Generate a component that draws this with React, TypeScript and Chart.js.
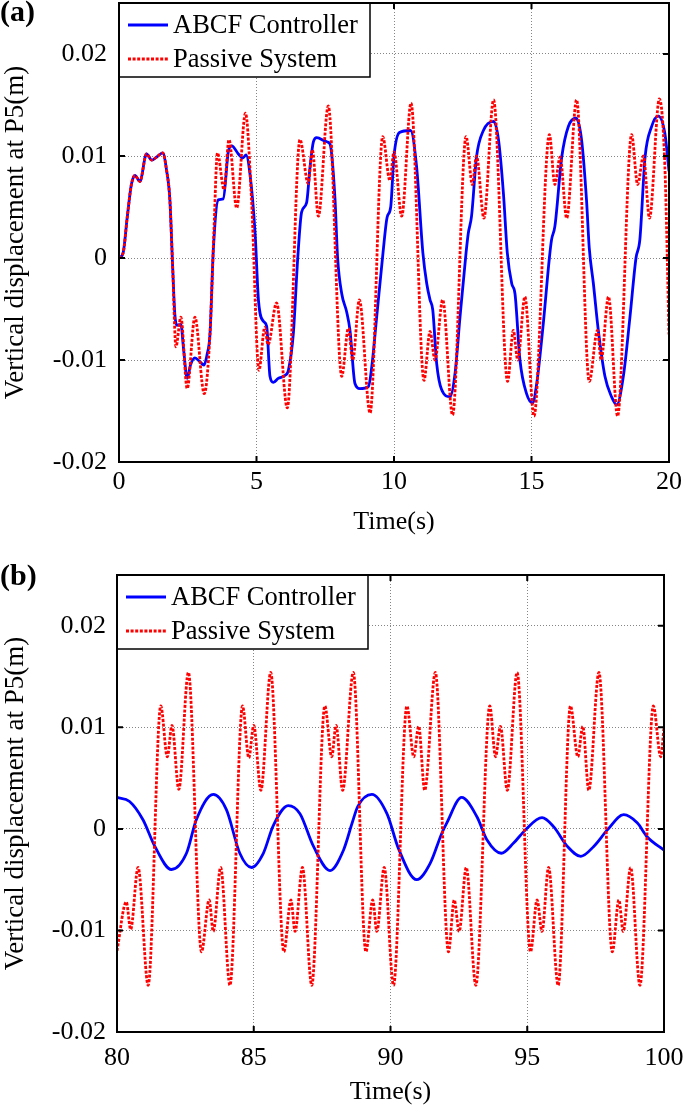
import React, { useEffect, useRef } from 'react';
import { Chart, registerables } from 'chart.js';

Chart.register(...registerables);

const FONT = "'Liberation Serif', 'Times New Roman', serif";

// ---------- shared axis data ----------
const Y_MIN = -0.02;
const Y_MAX = 0.025;
const Y_TICKS = [-0.02, -0.01, 0, 0.01, 0.02];
const Y_TICK_LABELS = ['-0.02', '-0.01', '0', '0.01', '0.02'];
const SERIES_LABELS = ['ABCF Controller', 'Passive System'];
const X_TITLE = 'Time(s)';
const Y_TITLE = 'Vertical displacement at P5(m)';

// ---------- panel (a): 0-20 s ----------
const A_X_TICKS = [0, 5, 10, 15, 20];
const A_ABCF_T = [
  0, 0.15, 0.3, 0.45, 0.58, 0.76, 1.0, 1.19, 1.37, 1.59, 1.73, 1.85, 1.95, 2.03, 2.1, 2.25, 2.35, 2.48, 2.6, 2.76,
  2.95, 3.09, 3.2, 3.31, 3.43, 3.61, 3.79, 3.98, 4.1, 4.34, 4.5, 4.62, 4.76, 4.95, 5.07, 5.25, 5.37, 5.49, 5.61, 5.79,
  6.04, 6.16, 6.34, 6.5, 6.64, 6.82, 6.95, 7.07, 7.19, 7.55, 7.67, 7.85, 7.95, 8.1, 8.28, 8.4, 8.58, 8.76, 9.07, 9.19,
  9.37, 9.6, 9.75, 9.88, 10.0, 10.2, 10.6, 10.82, 11.05, 11.19, 11.31, 11.41, 11.55, 11.73, 12.04, 12.22, 12.4, 12.62,
  12.7, 12.82, 13.0, 13.25, 13.62, 13.8, 13.98, 14.12, 14.28, 14.4, 14.58, 14.82, 15.04, 15.19, 15.43, 15.65, 15.73,
  15.85, 16.1, 16.34, 16.62, 16.82, 17.0, 17.1, 17.25, 17.43, 17.67, 17.91, 18.1, 18.34, 18.58, 18.8, 18.94, 19.13,
  19.37, 19.61, 19.85, 20.0,
];
const A_ABCF_Y = [
  0, 0.0005, 0.004, 0.0072, 0.0081, 0.0075, 0.0102, 0.0096, 0.0099, 0.0103, 0.0086, 0.0057, -0.0008, -0.0055, -0.0066,
  -0.0065, -0.009, -0.0118, -0.0105, -0.0098, -0.0102, -0.0105, -0.0095, -0.0074, 0.0008, 0.0057, 0.0058, 0.0105,
  0.011, 0.0102, 0.0098, 0.0101, 0.0083, 0.0024, -0.0041, -0.0062, -0.0067, -0.0116, -0.0122, -0.0118, -0.0115,
  -0.011, -0.0074, 0.0, 0.0045, 0.0054, 0.009, 0.0114, 0.0118, 0.0114, 0.0112, 0.006, 0.0, -0.0035, -0.0053, -0.0071,
  -0.0123, -0.0128, -0.0126, -0.0107, -0.0058, 0.0005, 0.004, 0.005, 0.01, 0.0123, 0.0125, 0.009, 0.0005, -0.0025,
  -0.0041, -0.0051, -0.0103, -0.0129, -0.0136, -0.0113, -0.0058, 0.0005, 0.0024, 0.0041, 0.0099, 0.0125, 0.0134,
  0.0116, 0.0063, 0.0005, -0.0025, -0.0035, -0.01, -0.0133, -0.0142, -0.0123, -0.0064, 0.0, 0.0018, 0.0031, 0.0099,
  0.0129, 0.0137, 0.0116, 0.0057, 0.001, -0.0025, -0.0071, -0.0116, -0.0136, -0.0144, -0.0116, -0.0058, 0.0, 0.0018,
  0.0099, 0.0129, 0.0139, 0.0122, 0.0085,
];
const A_PASSIVE_T = [
  0, 0.15, 0.3, 0.45, 0.58, 0.76, 1.0, 1.19, 1.37, 1.59, 1.73, 1.85, 1.95, 2.07, 2.25, 2.48, 2.76, 3.1, 3.31, 3.45,
  3.58, 3.82, 4.0, 4.28, 4.6, 4.82, 5.09, 5.3, 5.42, 5.73, 6.12, 6.58, 6.88, 7.03, 7.25, 7.61, 8.1, 8.34, 8.5, 8.74,
  9.13, 9.59, 9.85, 10.0, 10.28, 10.62, 11.09, 11.31, 11.49, 11.77, 12.13, 12.62, 12.85, 13.0, 13.27, 13.62, 14.13,
  14.34, 14.5, 14.76, 15.09, 15.65, 15.85, 16.04, 16.28, 16.64, 17.1, 17.4, 17.53, 17.8, 18.13, 18.64, 18.86, 19.07,
  19.29, 19.65, 19.85, 20.0,
];
const A_PASSIVE_Y = [
  0, 0.0005, 0.004, 0.0072, 0.0081, 0.0075, 0.0102, 0.0096, 0.0099, 0.0103, 0.0086, 0.0057, -0.0008, -0.0087, -0.0058,
  -0.0128, -0.0058, -0.0133, -0.0074, 0.0025, 0.0103, 0.0067, 0.0116, 0.0049, 0.0142, 0.0057, -0.011, -0.0068,
  -0.0085, -0.0044, -0.0147, 0.0116, 0.0073, 0.0106, 0.0041, 0.0149, -0.0116, -0.0069, -0.01, -0.0041, -0.0152,
  0.0119, 0.0076, 0.0104, 0.0041, 0.0152, -0.012, -0.0072, -0.01, -0.0041, -0.0154, 0.0119, 0.0072, 0.01, 0.0039,
  0.0155, -0.0121, -0.0071, -0.01, -0.0038, -0.0155, 0.0121, 0.0072, 0.0099, 0.0039, 0.0155, -0.0121, -0.0071, -0.01,
  -0.0038, -0.0155, 0.0121, 0.0072, 0.01, 0.0039, 0.0156, 0.009, -0.0075,
];

// ---------- panel (b): 80-100 s ----------
const B_X_TICKS = [80, 85, 90, 95, 100];
const B_ABCF_T = [
  80.0, 80.46, 80.95, 81.38, 81.99, 82.54, 82.9, 83.52, 84.0, 84.49, 84.92, 85.35, 85.71, 86.26, 86.69, 87.18, 87.79,
  88.28, 88.6, 88.8, 89.32, 89.87, 90.3, 90.96, 91.45, 91.88, 92.06, 92.6, 93.16, 93.53, 94.05, 94.5, 94.93, 95.54,
  95.97, 96.46, 96.96, 97.44, 97.93, 98.53, 99.02, 99.39, 100.0,
];
const B_ABCF_Y = [
  0.0031, 0.0027, 0.0009, -0.0017, -0.004, -0.0024, 0.0009, 0.0034, 0.0019, -0.0024, -0.0038, -0.0024, 0.0003,
  0.0023, 0.0015, -0.0017, -0.0041, -0.0021, 0.0006, 0.0022, 0.0034, 0.0015, -0.002, -0.005, -0.0034, -0.0004,
  0.0006, 0.0031, 0.0012, -0.0011, -0.0024, -0.0014, -0.0001, 0.0011, 0.0002, -0.0017, -0.0027, -0.0017, -0.0001,
  0.0014, 0.0006, -0.0008, -0.0021,
];
const B_PASSIVE_T = [
  80.0, 80.34, 80.5, 80.77, 81.14, 81.6, 81.84, 82.01, 82.26, 82.61, 83.09, 83.37, 83.52, 83.79, 84.13, 84.59, 84.82,
  85.0, 85.26, 85.62, 86.1, 86.36, 86.51, 86.78, 87.12, 87.6, 87.85, 88.01, 88.25, 88.64, 89.1, 89.35, 89.5, 89.77,
  90.11, 90.6, 90.85, 91.03, 91.25, 91.64, 92.12, 92.33, 92.51, 92.77, 93.12, 93.63, 93.84, 94.02, 94.27, 94.63,
  95.12, 95.36, 95.54, 95.78, 96.13, 96.58, 96.85, 97.03, 97.25, 97.62, 98.11, 98.35, 98.51, 98.78, 99.12, 99.61,
  99.88, 100.0,
];
const B_PASSIVE_Y = [
  -0.012, -0.0072, -0.0099, -0.0038, -0.0154, 0.0121, 0.0071, 0.0102, 0.0039, 0.0154, -0.0121, -0.007, -0.0101,
  -0.0038, -0.0154, 0.0121, 0.007, 0.0102, 0.0038, 0.0154, -0.0121, -0.007, -0.0101, -0.0038, -0.0154, 0.0121,
  0.0071, 0.0102, 0.0038, 0.0154, -0.0121, -0.007, -0.0101, -0.0038, -0.0154, 0.0121, 0.0071, 0.0101, 0.0038,
  0.0154, -0.0121, -0.007, -0.0101, -0.0038, -0.0154, 0.0121, 0.0071, 0.0101, 0.0038, 0.0154, -0.0121, -0.007,
  -0.0101, -0.0038, -0.0154, 0.0121, 0.0071, 0.0101, 0.0038, 0.0154, -0.0121, -0.007, -0.0101, -0.0038, -0.0154,
  0.0121, 0.0071, 0.01,
];

const toPoints = (t: number[], y: number[]) => t.map((x, i) => ({ x, y: y[i] }));

// Inward MATLAB-like tick marks on all four sides
const tickPlugin = {
  id: 'matlabTicks',
  afterDatasetsDraw(chart: any) {
    const { ctx, chartArea: a, scales } = chart;
    const TL = 6;
    ctx.save();
    ctx.strokeStyle = '#000';
    ctx.lineWidth = 2;
    ctx.beginPath();
    scales.x.ticks.forEach((t: any) => {
      const px = scales.x.getPixelForValue(t.value);
      ctx.moveTo(px, a.bottom);
      ctx.lineTo(px, a.bottom - TL);
      ctx.moveTo(px, a.top);
      ctx.lineTo(px, a.top + TL);
    });
    scales.y.ticks.forEach((t: any) => {
      const py = scales.y.getPixelForValue(t.value);
      ctx.moveTo(a.left, py);
      ctx.lineTo(a.left + TL, py);
      ctx.moveTo(a.right, py);
      ctx.lineTo(a.right - TL, py);
    });
    ctx.stroke();
    ctx.restore();
  },
};

// Legend box inside the plot, top-left
const legendPlugin = {
  id: 'insideLegend',
  afterDatasetsDraw(chart: any) {
    const { ctx, chartArea: a } = chart;
    const x0 = a.left;
    const y0 = a.top;
    const w = 251;
    const h = 74;
    ctx.save();
    ctx.fillStyle = '#fff';
    ctx.fillRect(x0, y0, w, h);
    ctx.strokeStyle = '#000';
    ctx.lineWidth = 1.5;
    ctx.strokeRect(x0, y0, w, h);
    const rows = [22, 56];
    chart.data.datasets.forEach((ds: any, i: number) => {
      const y = y0 + rows[i];
      ctx.beginPath();
      ctx.setLineDash(ds.borderDash || []);
      ctx.lineWidth = ds.borderWidth;
      ctx.strokeStyle = ds.borderColor;
      ctx.moveTo(x0 + 9, y);
      ctx.lineTo(x0 + 49, y);
      ctx.stroke();
      ctx.setLineDash([]);
      ctx.fillStyle = '#000';
      ctx.font = `26.5px ${FONT}`;
      ctx.textBaseline = 'middle';
      ctx.textAlign = 'left';
      ctx.fillText(ds.label, x0 + 54, y + 1);
    });
    ctx.restore();
  },
};

// Solid axes frame
const framePlugin = {
  id: 'matlabFrame',
  afterDraw(chart: any) {
    const { ctx, chartArea: a } = chart;
    ctx.save();
    ctx.strokeStyle = '#000';
    ctx.lineWidth = 2;
    ctx.strokeRect(a.left, a.top, a.right - a.left, a.bottom - a.top);
    ctx.restore();
  },
};

type PanelProps = {
  top: number;
  height: number;
  area: { left: number; right: number; top: number; bottom: number };
  xMin: number;
  xMax: number;
  xTicks: number[];
  abcfT: number[];
  abcfY: number[];
  passiveT: number[];
  passiveY: number[];
  xLabelPad: number;
  yLabelPad: number;
  xTitlePad: number;
};

const W = 685;

function Panel(p: PanelProps) {
  const ref = useRef<HTMLCanvasElement | null>(null);
  useEffect(() => {
    if (!ref.current) return;
    const H = p.height;
    const grid = { color: 'rgba(120,120,120,0.9)', lineWidth: 1, drawTicks: false };
    const chart = new Chart(ref.current, {
      type: 'line',
      data: {
        datasets: [
          {
            label: SERIES_LABELS[0],
            data: toPoints(p.abcfT, p.abcfY),
            borderColor: '#0000ff',
            borderWidth: 2.8,
            pointRadius: 0,
            cubicInterpolationMode: 'monotone',
            fill: false,
            order: 1,
          },
          {
            label: SERIES_LABELS[1],
            data: toPoints(p.passiveT, p.passiveY),
            borderColor: '#ff0000',
            borderWidth: 2.8,
            borderDash: [3, 1.6],
            pointRadius: 0,
            cubicInterpolationMode: 'monotone',
            fill: false,
            order: 0,
          },
        ],
      },
      options: {
        animation: false,
        responsive: false,
        maintainAspectRatio: false,
        events: [],
        layout: { padding: { left: 0, top: p.area.top, right: W - p.area.right, bottom: 0 } },
        plugins: { legend: { display: false }, tooltip: { enabled: false }, title: { display: false } },
        scales: {
          x: {
            type: 'linear',
            min: p.xMin,
            max: p.xMax,
            afterBuildTicks: (s: any) => {
              s.ticks = p.xTicks.map((v) => ({ value: v }));
            },
            afterFit: (s: any) => {
              s.height = H - p.area.bottom;
              s.paddingLeft = 0;
              s.paddingRight = 0;
            },
            grid,
            border: { display: false, dash: [1, 2] },
            ticks: {
              color: '#000',
              font: { family: FONT, size: 26 },
              padding: p.xLabelPad,
              maxRotation: 0,
              autoSkip: false,
              callback: (v: any) => String(v),
            },
            title: {
              display: true,
              text: X_TITLE,
              color: '#000',
              font: { family: FONT, size: 26 },
              padding: { top: 0, bottom: p.xTitlePad },
            },
          },
          y: {
            type: 'linear',
            min: Y_MIN,
            max: Y_MAX,
            afterBuildTicks: (s: any) => {
              s.ticks = Y_TICKS.map((v) => ({ value: v }));
            },
            afterFit: (s: any) => {
              s.width = p.area.left;
              s.paddingTop = 0;
              s.paddingBottom = 0;
            },
            grid,
            border: { display: false, dash: [1, 2] },
            ticks: {
              color: '#000',
              font: { family: FONT, size: 26 },
              padding: p.yLabelPad,
              autoSkip: false,
              callback: (v: any) => {
                const i = Y_TICKS.indexOf(v);
                return i >= 0 ? Y_TICK_LABELS[i] : '';
              },
            },
            title: {
              display: true,
              text: Y_TITLE,
              color: '#000',
              font: { family: FONT, size: 27 },
              padding: 0,
            },
          },
        },
      } as any,
      plugins: [tickPlugin, legendPlugin, framePlugin],
    });
    return () => chart.destroy();
  }, []);
  return (
    <canvas
      ref={ref}
      width={W}
      height={p.height}
      style={{ position: 'absolute', left: 0, top: p.top, width: W, height: p.height, display: 'block' }}
    />
  );
}

export default function App() {
  const tag: React.CSSProperties = {
    position: 'absolute',
    left: 0,
    fontFamily: FONT,
    fontWeight: 'bold',
    fontSize: 30,
    lineHeight: '30px',
    color: '#000',
    zIndex: 2,
  };
  return (
    <div style={{ position: 'absolute', left: 0, top: 0, width: W, height: 1114, background: '#fff', overflow: 'hidden' }}>
      <Panel
        top={0}
        height={545}
        area={{ left: 119, right: 669, top: 3, bottom: 462 }}
        xMin={0}
        xMax={20}
        xTicks={A_X_TICKS}
        abcfT={A_ABCF_T}
        abcfY={A_ABCF_Y}
        passiveT={A_PASSIVE_T}
        passiveY={A_PASSIVE_Y}
        xLabelPad={5}
        yLabelPad={12}
        xTitlePad={7}
      />
      <Panel
        top={545}
        height={569}
        area={{ left: 117, right: 664, top: 30, bottom: 487 }}
        xMin={80}
        xMax={100}
        xTicks={B_X_TICKS}
        abcfT={B_ABCF_T}
        abcfY={B_ABCF_Y}
        passiveT={B_PASSIVE_T}
        passiveY={B_PASSIVE_Y}
        xLabelPad={11}
        yLabelPad={11}
        xTitlePad={6}
      />
      <div style={{ ...tag, top: -4 }}>(a)</div>
      <div style={{ ...tag, top: 560 }}>(b)</div>
    </div>
  );
}
